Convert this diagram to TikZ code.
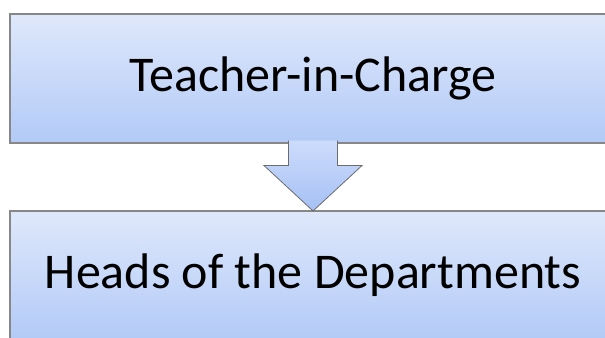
\documentclass[tikz,border=0pt]{standalone}
\usepackage{fontspec}
\setmainfont{Carlito}
\usepackage{xcolor}
\usetikzlibrary{calc,shadows}
\definecolor{boxtop}{RGB}{223,232,251}
\definecolor{boxbottom}{RGB}{178,202,247}
\definecolor{arrowtop}{RGB}{205,220,252}
\definecolor{arrowbottom}{RGB}{165,192,245}
\definecolor{edgegray}{RGB}{135,135,135}

\tikzset{
  levelbox/.style={draw=edgegray, line width=0.8pt, top color=boxtop, bottom color=boxbottom,
    minimum width=606*0.75pt, minimum height=129*0.75pt, inner sep=0pt,
    font=\fontsize{37.5}{40}\selectfont,
    drop shadow={opacity=0.35, shadow xshift=0.6pt, shadow yshift=-1pt}},
  downarrow/.style={draw=edgegray!80!black, line width=0.6pt, top color=arrowtop, bottom color=arrowbottom}
}

\begin{document}
\begin{tikzpicture}[x=0.75pt, y=-0.75pt]
\useasboundingbox (0,0) rectangle (605,338);
\clip (0,0) rectangle (605,338);

% Two levels of the chain
\node[levelbox] (charge) at (313,78.5) {Teacher-in-Charge};
\node[levelbox] (heads) at (313,275.5) {Heads of the Departments};

% Block arrow from one level down to the next
\coordinate (tip) at ($(heads.north)+(0,0.5)$);
\draw[downarrow] ($(charge.south)+(-24.5,-3)$) -- ($(charge.south)+(-24.5,22)$)
  -- ($(charge.south)+(-49,22)$) -- (tip) -- ($(charge.south)+(49,22)$)
  -- ($(charge.south)+(24.5,22)$) -- ($(charge.south)+(24.5,-3)$);
\end{tikzpicture}
\end{document}
